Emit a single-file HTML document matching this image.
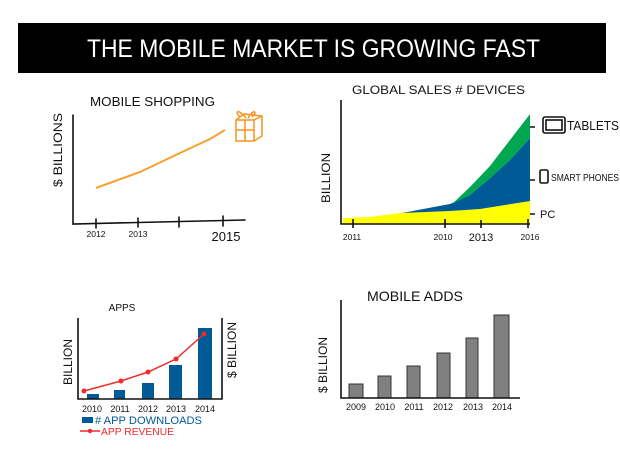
<!DOCTYPE html>
<html><head><meta charset="utf-8"><style>
html,body{margin:0;padding:0;background:#fff;width:620px;height:465px;overflow:hidden}
svg{display:block}
text{font-family:"Liberation Sans",sans-serif;fill:#111}
</style></head><body>
<svg width="620" height="465" viewBox="0 0 620 465" xmlns="http://www.w3.org/2000/svg">
<rect x="18" y="23" width="588" height="50" fill="#000"/>
<text x="87" y="57" font-size="25" style="fill:#fff" textLength="453" lengthAdjust="spacingAndGlyphs">THE MOBILE MARKET IS GROWING FAST</text>

<!-- Chart 1 -->
<text x="90" y="106" font-size="13" textLength="125" lengthAdjust="spacingAndGlyphs">MOBILE SHOPPING</text>
<g stroke="#111" stroke-width="1.6" fill="none" stroke-linecap="round">
<path d="M73 115 L73 224 L245 220"/>
<path d="M96 219 V228 M138 218 V227 M179 217 V227 M223 216 V226"/>
</g>
<text transform="translate(62,150) rotate(-90)" text-anchor="middle" font-size="12" textLength="74" lengthAdjust="spacingAndGlyphs">$ BILLIONS</text>
<g font-size="8.5" text-anchor="middle"><text x="96" y="237">2012</text><text x="138" y="237">2013</text></g>
<text x="226" y="241" font-size="13" text-anchor="middle">2015</text>
<path d="M96 188 L140 172 L180 153 L210 139 L225 130" stroke="#f7a030" stroke-width="2" fill="none"/>
<g stroke="#f7931e" stroke-width="1.5" fill="none">
<rect x="236" y="120" width="18" height="21"/>
<path d="M236 120 L244 114 L262 116 L262 136 L254 141 M254 120 L262 116 M245 120 V141 M236 130 H254"/>
<path d="M246 118 C238 108 234 112 240 117 M248 118 C254 108 258 112 252 117"/>
</g>

<!-- Chart 2 -->
<text x="352" y="94" font-size="12" textLength="173" lengthAdjust="spacingAndGlyphs">GLOBAL SALES # DEVICES</text>
<path d="M343 224 L343 218 L370 217 L400 213 L450 211 L480 209 L530 201 L530 224 Z" fill="#ffff00"/>
<path d="M402 213 L450 204 L470 195 L490 178 L510 160 L530 138 L530 201 L480 209 L450 211 Z" fill="#005a96"/>
<path d="M452 204 L470 187 L490 166 L510 140 L530 114 L530 138 L510 160 L490 178 L470 195 Z" fill="#00a650"/>
<g stroke="#111" stroke-width="1.6" fill="none">
<path d="M341 100 L341 224 L530 224"/>
<path d="M353 219 V228 M445 219 V228 M481 220 V228 M528 219 V228"/>
<path d="M530 127 H535 M530 180 H535 M530 214 H535"/>
<rect x="543" y="117" width="22" height="16" rx="2"/>
<rect x="546" y="120" width="16" height="10"/>
<rect x="540" y="170" width="8" height="13" rx="1.5"/>
</g>
<text transform="translate(330,178) rotate(-90)" text-anchor="middle" font-size="12" textLength="50" lengthAdjust="spacingAndGlyphs">BILLION</text>
<text x="567" y="130" font-size="13" textLength="52" lengthAdjust="spacingAndGlyphs">TABLETS</text>
<text x="551" y="181" font-size="10" textLength="68" lengthAdjust="spacingAndGlyphs">SMART PHONES</text>
<text x="540" y="218" font-size="11">PC</text>
<g font-size="8.5" text-anchor="middle"><text x="352" y="240">2011</text><text x="443" y="240">2010</text><text x="481" y="241" font-size="11">2013</text><text x="530" y="240">2016</text></g>

<!-- Chart 3 -->
<text x="122" y="311" text-anchor="middle" font-size="10">APPS</text>
<g fill="#005a96">
<rect x="87" y="394" width="12" height="5"/>
<rect x="114" y="390" width="11" height="9"/>
<rect x="142" y="383" width="12" height="16"/>
<rect x="169" y="365" width="13" height="34"/>
<rect x="198" y="328" width="14" height="71"/>
</g>
<g stroke="#111" stroke-width="1.6" fill="none"><path d="M78 318 L78 399 L222 399 L222 318"/></g>
<path d="M84 391 L121 381 L148 372 L176 359 L204 334" stroke="#ee2a2a" stroke-width="1.5" fill="none"/>
<g fill="#ee2a2a"><circle cx="84" cy="391" r="2.5"/><circle cx="121" cy="381" r="2.5"/><circle cx="148" cy="372" r="2.5"/><circle cx="176" cy="359" r="2.5"/><circle cx="204" cy="334" r="2.5"/></g>
<text transform="translate(72,362) rotate(-90)" text-anchor="middle" font-size="12">BILLION</text>
<text transform="translate(236,350) rotate(-90)" text-anchor="middle" font-size="12">$ BILLION</text>
<g font-size="9" text-anchor="middle"><text x="92" y="412">2010</text><text x="120" y="412">2011</text><text x="148" y="412">2012</text><text x="176" y="412">2013</text><text x="205" y="412">2014</text></g>
<rect x="82" y="417" width="11" height="6" fill="#005a96"/>
<text x="95" y="424" font-size="11" style="fill:#005a96" textLength="107" lengthAdjust="spacingAndGlyphs"># APP DOWNLOADS</text>
<path d="M80 431 H100" stroke="#ee2a2a" stroke-width="1.5"/><circle cx="90" cy="431" r="2.2" fill="#ee2a2a"/>
<text x="101" y="435" font-size="10" style="fill:#ee2a2a" textLength="73" lengthAdjust="spacingAndGlyphs">APP REVENUE</text>

<!-- Chart 4 -->
<text x="367" y="301" font-size="14" textLength="96" lengthAdjust="spacingAndGlyphs">MOBILE ADDS</text>
<g fill="#808080" stroke="#333" stroke-width="1">
<rect x="349" y="384" width="14" height="14"/>
<rect x="378" y="376" width="13" height="22"/>
<rect x="407" y="366" width="13" height="32"/>
<rect x="437" y="353" width="13" height="45"/>
<rect x="466" y="338" width="12" height="60"/>
<rect x="494" y="315" width="15" height="83"/>
</g>
<path d="M341 300 L341 398 L520 398" stroke="#111" stroke-width="1.6" fill="none"/>
<text transform="translate(327,365) rotate(-90)" text-anchor="middle" font-size="12">$ BILLION</text>
<g font-size="9" text-anchor="middle"><text x="356" y="410">2009</text><text x="385" y="410">2010</text><text x="414" y="410">2011</text><text x="443" y="410">2012</text><text x="473" y="410">2013</text><text x="502" y="410">2014</text></g>
</svg>
</body></html>
